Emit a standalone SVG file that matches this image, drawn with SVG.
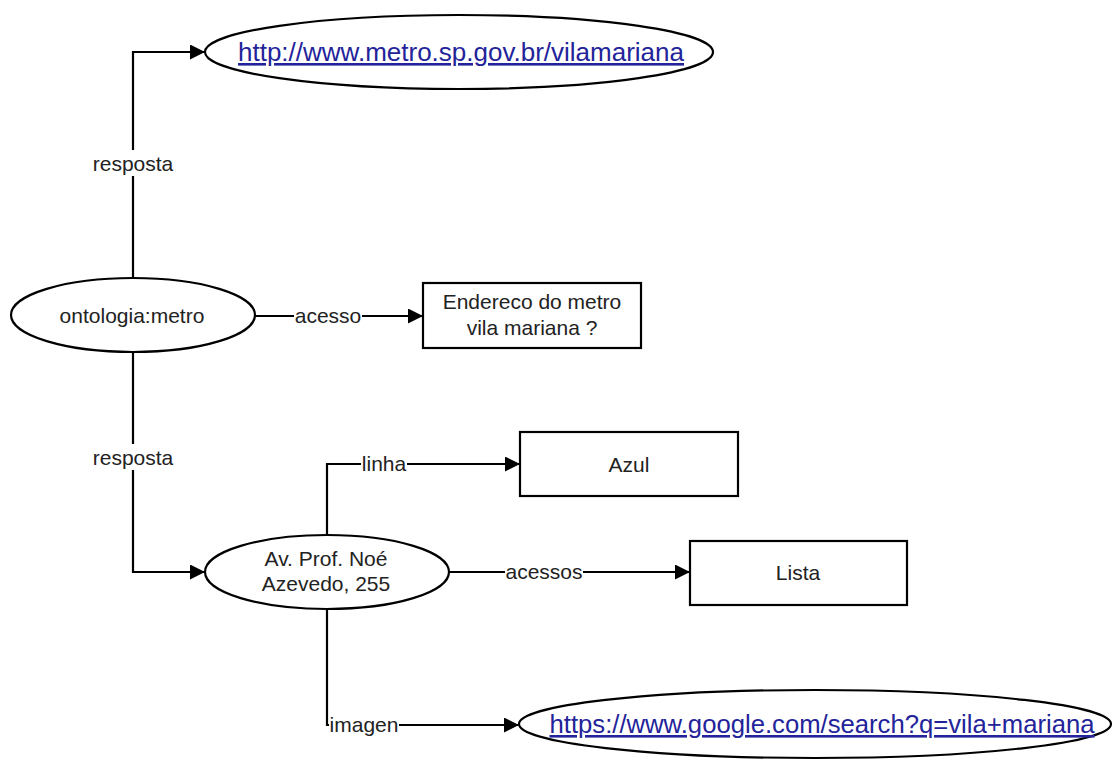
<svg xmlns="http://www.w3.org/2000/svg" width="1118" height="760" viewBox="0 0 1118 760">
<defs>
<marker id="arr" viewBox="0 0 10 10" refX="10" refY="5" markerWidth="21" markerHeight="15" markerUnits="userSpaceOnUse" orient="auto">
<path d="M0,0 L10,5 L0,10 Z" fill="#000"/>
</marker>
<style>
.shape{fill:#fff;stroke:#000;stroke-width:2.2}
.edge{fill:none;stroke:#000;stroke-width:2.2}
.t{font-family:"Liberation Sans",Arial,sans-serif;font-size:21px;fill:#222;text-anchor:middle;dominant-baseline:central}
.lbl{font-family:"Liberation Sans",Arial,sans-serif;font-size:21px;fill:#222;text-anchor:middle;dominant-baseline:central}
.url{font-family:"Liberation Sans",Arial,sans-serif;font-size:26px;fill:#23239a;text-anchor:middle;text-decoration:underline}
.bg{fill:#fff}
</style>
</defs>
<rect width="1118" height="760" fill="#fff"/>
<g id="connectors">
<path class="edge" d="M133,277 V52 H205" marker-end="url(#arr)"/>
<rect class="bg" x="92" y="150" width="82" height="26"/>
<text class="lbl" x="133" y="163">resposta</text>
<path class="edge" d="M255,316 H423" marker-end="url(#arr)"/>
<rect class="bg" x="294" y="304" width="68" height="24"/>
<text class="lbl" x="328" y="315">acesso</text>
<path class="edge" d="M133,352 V572 H205" marker-end="url(#arr)"/>
<rect class="bg" x="92" y="444" width="82" height="26"/>
<text class="lbl" x="133" y="457">resposta</text>
<path class="edge" d="M327,534 V464 H520" marker-end="url(#arr)"/>
<rect class="bg" x="361" y="452" width="46" height="24"/>
<text class="lbl" x="384" y="463">linha</text>
<path class="edge" d="M448,572 H690" marker-end="url(#arr)"/>
<rect class="bg" x="505" y="560" width="78" height="24"/>
<text class="lbl" x="544" y="571">acessos</text>
<path class="edge" d="M327,609 V725 H519" marker-end="url(#arr)"/>
<rect class="bg" x="329" y="713" width="70" height="24"/>
<text class="lbl" x="364" y="724">imagen</text>
</g>
<g id="node-url-metro">
<ellipse class="shape" cx="459" cy="52" rx="254" ry="37"/>
<text class="url" x="461" y="61" textLength="446" lengthAdjust="spacingAndGlyphs">http://www.metro.sp.gov.br/vilamariana</text>
</g>
<g id="node-ontologia">
<ellipse class="shape" cx="133" cy="315" rx="122" ry="37"/>
<text class="t" x="132" y="315">ontologia:metro</text>
</g>
<g id="node-endereco">
<rect class="shape" x="423" y="283" width="218" height="65"/>
<text class="t" x="532" y="301">Endereco do metro</text>
<text class="t" x="532" y="327">vila mariana ?</text>
</g>
<g id="node-av">
<ellipse class="shape" cx="327" cy="572" rx="122" ry="37"/>
<text class="t" x="326" y="558">Av. Prof. Noé</text>
<text class="t" x="326" y="583">Azevedo, 255</text>
</g>
<g id="node-azul">
<rect class="shape" x="520" y="432" width="218" height="64"/>
<text class="t" x="629" y="464">Azul</text>
</g>
<g id="node-lista">
<rect class="shape" x="690" y="541" width="217" height="64"/>
<text class="t" x="798" y="572">Lista</text>
</g>
<g id="node-url-google">
<ellipse class="shape" cx="815" cy="724" rx="296" ry="34"/>
<text class="url" x="822" y="733" textLength="545" lengthAdjust="spacingAndGlyphs">https://www.google.com/search?q=vila+mariana</text>
</g>
</svg>
